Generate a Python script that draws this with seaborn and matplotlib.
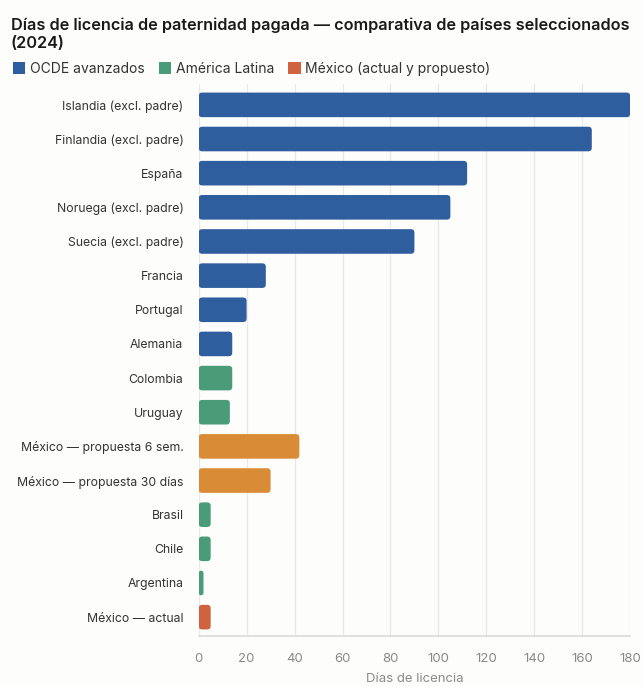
import seaborn as sns
import matplotlib.pyplot as plt
import pandas as pd
from matplotlib.patches import FancyBboxPatch, Patch

# Data
paises = ["Islandia (excl. padre)", "Finlandia (excl. padre)", "España",
          "Noruega (excl. padre)", "Suecia (excl. padre)", "Francia", "Portugal",
          "Alemania", "Colombia", "Uruguay", "México — propuesta 6 sem.",
          "México — propuesta 30 días", "Brasil", "Chile", "Argentina",
          "México — actual"]
dias = [180, 164, 112, 105, 90, 28, 20, 14, 14, 13, 42, 30, 5, 5, 2, 5]
grupo = ["OCDE", "OCDE", "OCDE", "OCDE", "OCDE", "OCDE", "OCDE", "OCDE",
         "LatAm", "LatAm", "Propuesta", "Propuesta", "LatAm", "LatAm", "LatAm",
         "Actual"]

colores = {"OCDE": "#2e5e9e", "LatAm": "#4a9c78", "Propuesta": "#d98b35",
           "Actual": "#cf633f"}
legend_items = [("OCDE avanzados", "#2e5e9e"), ("América Latina", "#4a9c78"),
                ("México (actual y propuesto)", "#cf633f")]

df = pd.DataFrame({"pais": paises, "dias": dias, "grupo": grupo})

sns.set_theme(style="white")
plt.rcParams['font.family'] = ['Inter', 'DejaVu Sans']
bg = "#fdfdfc"

fig = plt.figure(figsize=(6.43, 6.86), dpi=100, facecolor=bg)
ax = fig.add_axes([0.309, 0.073, 0.671, 0.804], facecolor=bg)

sns.barplot(data=df, y="pais", x="dias", hue="grupo", palette=colores,
            dodge=False, width=0.72, saturation=1, legend=False, ax=ax)

ax.set_xlim(0, 180)
ax.set_ylim(15.55, -0.6)

# replace rectangles with rounded bars
fig.canvas.draw()
x_per_px = 180 / ax.get_window_extent().width
y_per_px = 16.15 / ax.get_window_extent().height
for p in list(ax.patches):
    x0, y0 = p.get_x(), p.get_y()
    w, h = p.get_width(), p.get_height()
    if w <= 0:
        p.remove()
        continue
    r = min(3.5 * x_per_px, w / 2)
    fb = FancyBboxPatch((x0, y0), w, h,
                        boxstyle=f"round,pad=0,rounding_size={r}",
                        mutation_aspect=y_per_px / x_per_px,
                        facecolor=p.get_facecolor(), edgecolor="none", zorder=3)
    p.remove()
    ax.add_patch(fb)

ax.set_xticks(range(0, 181, 20))
ax.grid(axis="x", color="#e9e9e7", linewidth=0.9, zorder=0)
ax.grid(axis="y", visible=False)
for s in ["top", "right", "left"]:
    ax.spines[s].set_visible(False)
ax.spines["bottom"].set_color("#dcdcda")
ax.tick_params(axis="x", colors="#dcdcda", length=5, width=0.8,
               labelcolor="#8a8a8a", labelsize=9.5, pad=7)
ax.tick_params(axis="y", length=0, labelsize=8.8, labelcolor="#333333", pad=11)
ax.set_ylabel("")
ax.set_xlabel("Días de licencia", color="#8a8a8a", fontsize=9.5, labelpad=6)

fig.text(0.017, 0.975, "Días de licencia de paternidad pagada — comparativa de países seleccionados\n(2024)",
         fontsize=11.7, fontweight=600, color="#1a1a1a", va="top",
         linespacing=1.3)

handles = [Patch(facecolor=c, edgecolor="none", label=l) for l, c in legend_items]
fig.legend(handles=handles, loc="upper left", bbox_to_anchor=(0.0, 0.928),
           ncol=3, frameon=False, fontsize=10, handlelength=0.9,
           handleheight=0.9, handletextpad=0.35, columnspacing=1.0,
           labelcolor="#333333")

fig.savefig("out.png", dpi=100, facecolor=bg)
